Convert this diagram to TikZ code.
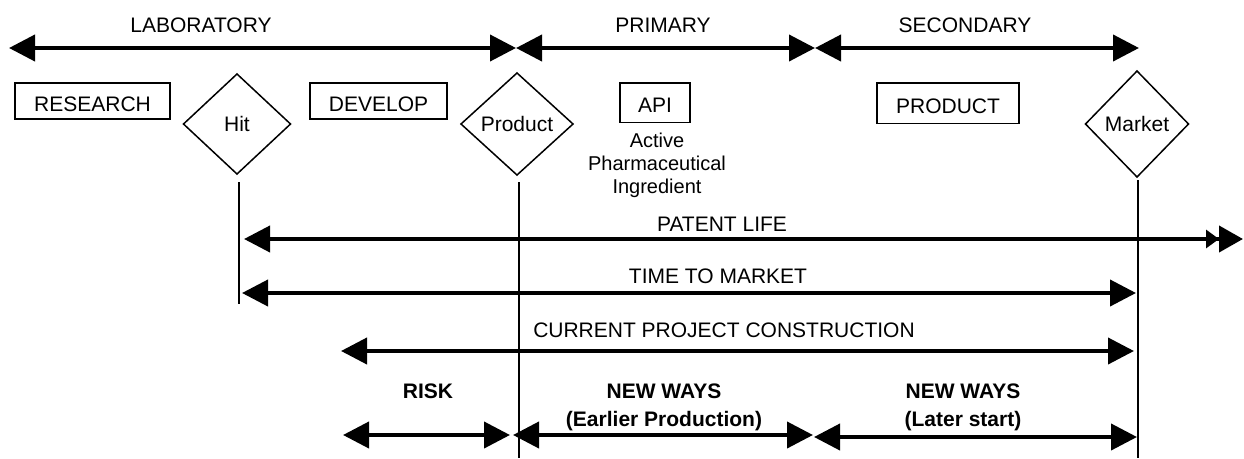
\documentclass[tikz,border=0pt]{standalone}
\usepackage{fontspec}
\setmainfont{Liberation Sans}
\usetikzlibrary{arrows.meta,shapes.geometric}

\begin{document}
\begin{tikzpicture}[x=1pt,y=-1pt,
  every node/.style={inner sep=0pt, outer sep=0pt},
  lbl/.style={font=\fontsize{21}{25}\selectfont, anchor=base},
  boldlbl/.style={font=\fontsize{21}{28.5}\selectfont\bfseries, align=center},
  note/.style={font=\fontsize{20}{23}\selectfont, align=center, anchor=north},
  stagebox/.style={draw, line width=1.5pt, font=\fontsize{21}{25}\selectfont,
    text height=20pt, text depth=0pt},
  gate/.style={draw, diamond, line width=1.5pt, font=\fontsize{21}{25}\selectfont},
  tip/.style={Triangle[length=26pt,width=26pt]},
  span/.style={line width=4pt, {Triangle[length=26pt,width=26pt]}-{Triangle[length=26pt,width=26pt]}},
  guide/.style={line width=1.5pt}
]
\useasboundingbox (0,0) rectangle (1244,458);

% --- phase bar ---
\coordinate (labL) at (9,48);
\coordinate (j1)   at (516,48);
\coordinate (j2)   at (815,48);
\coordinate (secR) at (1139,48);
\draw[span] (labL) -- (j1);
\draw[span] (j1) -- (j2);
\draw[span] (j2) -- (secR);
\node[lbl] (tLab) at (201,32) {LABORATORY};
\node[lbl] (tPri) at (663,32) {PRIMARY};
\node[lbl] (tSec) at (965,32) {SECONDARY};

% --- stages and milestones ---
\node[stagebox, minimum width=155pt, minimum height=36pt]   (research) at (92.5,101)  {RESEARCH};
\node[stagebox, minimum width=137pt, minimum height=36pt]   (develop)  at (378.5,101) {DEVELOP};
\node[stagebox, minimum width=70pt,  minimum height=39.5pt] (api)      at (655,102.5) {API};
\node[stagebox, minimum width=142pt, minimum height=40.5pt] (product)  at (948,103)   {PRODUCT};
\node[note] (apiNote) at (657,133) {Active\\Pharmaceutical\\Ingredient};

\node[gate, minimum width=107pt, minimum height=100pt] (hit)    at (237,124)  {Hit};
\node[gate, minimum width=112pt, minimum height=102pt] (prod)   at (517,124)  {Product};
\node[gate, minimum width=103pt, minimum height=106pt] (market) at (1137,124) {Market};

% --- milestone guide lines ---
\coordinate (hitTop)  at (239,182);
\coordinate (hitBot)  at (239,304);
\coordinate (prodTop) at (519,182);
\coordinate (prodBot) at (519,458);
\coordinate (mktTop)  at (1138,180);
\coordinate (mktBot)  at (1138,458);
\draw[guide] (hitTop) -- (hitBot);
\draw[guide] (prodTop) -- (prodBot);
\draw[guide] (mktTop) -- (mktBot);

% --- spans ---
\coordinate (patL) at (244,239);
\coordinate (patR) at (1243,239);
\draw[line width=4pt, {Triangle[length=26pt,width=26pt]}-{Triangle[length=13pt,width=18pt]Triangle[length=24pt,width=26pt]}] (patL) -- (patR);
\node[lbl] (tPat) at (722,231) {PATENT LIFE};

\coordinate (ttmL) at (242,293);
\coordinate (ttmR) at (1136,293);
\draw[span] (ttmL) -- (ttmR);
\node[lbl] (tTtm) at (718,283) {TIME TO MARKET};

\coordinate (cpcL) at (341,351);
\coordinate (cpcR) at (1134,351);
\draw[span] (cpcL) -- (cpcR);
\node[lbl] (tCpc) at (724,337) {CURRENT PROJECT CONSTRUCTION};

\coordinate (riskL) at (343,435);
\coordinate (riskR) at (510,435);
\coordinate (earlyL) at (513,435);
\coordinate (earlyR) at (813,435);
\coordinate (lateL) at (814,437);
\coordinate (lateR) at (1137,437);
\draw[span] (riskL) -- (riskR);
\draw[span] (earlyL) -- (earlyR);
\draw[span] (lateL) -- (lateR);
\node[boldlbl, anchor=base]  (tRisk)  at (428,398)   {RISK};
\node[boldlbl, anchor=north] (tEarly) at (664,383.5) {NEW WAYS\\(Earlier Production)};
\node[boldlbl, anchor=north] (tLate)  at (963,383.5) {NEW WAYS\\(Later start)};
\end{tikzpicture}
\end{document}
